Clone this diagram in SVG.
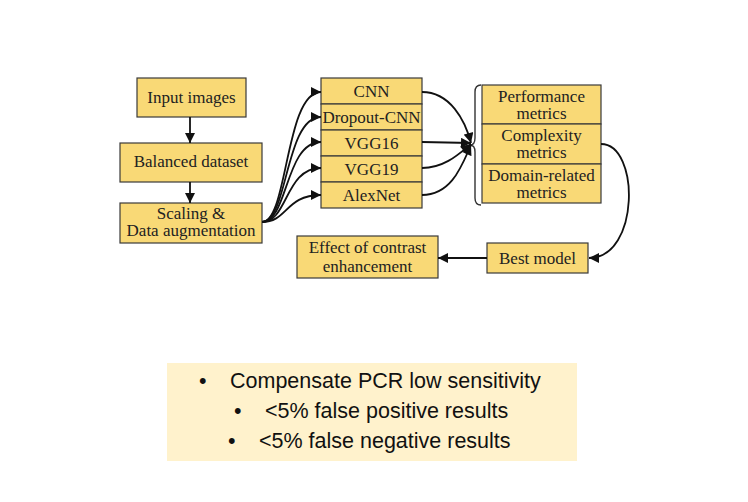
<svg xmlns="http://www.w3.org/2000/svg" width="748" height="502" viewBox="0 0 748 502">
<defs>
<style>
.box{fill:#F9D976;stroke:#3a3a3a;stroke-width:1.2}
.t{font-family:"Liberation Serif","Times New Roman",serif;font-size:17px;fill:#222;text-anchor:middle}
.c{fill:none;stroke:#111;stroke-width:1.8}
.b{font-family:"Liberation Sans",Arial,sans-serif;font-size:21.5px;fill:#111}
</style>
<marker id="ah" viewBox="0 0 10 10" refX="10" refY="5" markerWidth="11" markerHeight="10" markerUnits="userSpaceOnUse" orient="auto">
<path d="M0,0 L10,5 L0,10 z" fill="#111"/>
</marker>
</defs>
<rect width="748" height="502" fill="#fff"/>

<g id="input-images"><rect class="box" x="137" y="78" width="109" height="39"/><text class="t" x="191.5" y="103">Input images</text></g>
<g id="balanced-dataset"><rect class="box" x="120" y="143" width="142" height="39"/><text class="t" x="191" y="167">Balanced dataset</text></g>
<g id="scaling"><rect class="box" x="120" y="203" width="142" height="40"/><text class="t" x="191" y="218.5">Scaling &amp;</text><text class="t" x="191" y="236">Data augmentation</text></g>

<g id="models">
<g id="cnn"><rect class="box" x="321" y="78" width="101" height="26"/><text class="t" x="371.5" y="97">CNN</text></g>
<g id="dropout-cnn"><rect class="box" x="321" y="104" width="101" height="26"/><text class="t" x="371.5" y="123">Dropout-CNN</text></g>
<g id="vgg16"><rect class="box" x="321" y="130" width="101" height="26"/><text class="t" x="371.5" y="149">VGG16</text></g>
<g id="vgg19"><rect class="box" x="321" y="156" width="101" height="26"/><text class="t" x="371.5" y="175">VGG19</text></g>
<g id="alexnet"><rect class="box" x="321" y="182" width="101" height="26"/><text class="t" x="371.5" y="201">AlexNet</text></g>
</g>

<g id="metrics">
<path d="M481,85 Q475,85 475,92 L475,138 Q475,145 470,145 Q475,145 475,152 L475,198 Q475,205 481,205" fill="none" stroke="#333" stroke-width="1.4"/>
<g id="performance"><rect class="box" x="482" y="85" width="119" height="39"/><text class="t" x="541.5" y="101.5">Performance</text><text class="t" x="541.5" y="119">metrics</text></g>
<g id="complexity"><rect class="box" x="482" y="124" width="119" height="40"/><text class="t" x="541.5" y="140.5">Complexity</text><text class="t" x="541.5" y="158">metrics</text></g>
<g id="domain"><rect class="box" x="482" y="164" width="119" height="39"/><text class="t" x="541.5" y="180.5">Domain-related</text><text class="t" x="541.5" y="198">metrics</text></g>
</g>

<g id="best-model"><rect class="box" x="487" y="243" width="101" height="30"/><text class="t" x="537.5" y="264">Best model</text></g>
<g id="effect"><rect class="box" x="297" y="236" width="141" height="42"/><text class="t" x="367.5" y="253">Effect of contrast</text><text class="t" x="367.5" y="272">enhancement</text></g>

<g id="connectors">
<path class="c" d="M190,117 L190,143" marker-end="url(#ah)"/>
<path class="c" d="M190,182 L190,203" marker-end="url(#ah)"/>
<path class="c" d="M262,222 C288,222 285,92 321,92" marker-end="url(#ah)"/>
<path class="c" d="M262,222 C288,222 285,117 321,117" marker-end="url(#ah)"/>
<path class="c" d="M262,222 C288,222 285,142 321,142" marker-end="url(#ah)"/>
<path class="c" d="M262,222 C288,222 285,168 321,168" marker-end="url(#ah)"/>
<path class="c" d="M262,222 C288,222 285,195 321,195" marker-end="url(#ah)"/>
<path class="c" d="M422,92 C450,92 465,120 471,143" marker-end="url(#ah)"/>
<path class="c" d="M422,142 L471,143" marker-end="url(#ah)"/>
<path class="c" d="M422,168 C445,168 460,153 471,144" marker-end="url(#ah)"/>
<path class="c" d="M422,195 C452,195 462,165 471,145" marker-end="url(#ah)"/>
<path class="c" d="M601,144 C640,144 640,258 589,258" marker-end="url(#ah)"/>
<path class="c" d="M487,258 L438,258" marker-end="url(#ah)"/>
</g>

<g id="summary">
<rect x="167" y="363" width="410" height="98" fill="#FFF2CC"/>
<text class="b" x="199" y="388">•</text><text class="b" x="230" y="388">Compensate PCR low sensitivity</text>
<text class="b" x="234" y="418">•</text><text class="b" x="265" y="418">&lt;5% false positive results</text>
<text class="b" x="228" y="448">•</text><text class="b" x="259" y="448">&lt;5% false negative results</text>
</g>
</svg>
